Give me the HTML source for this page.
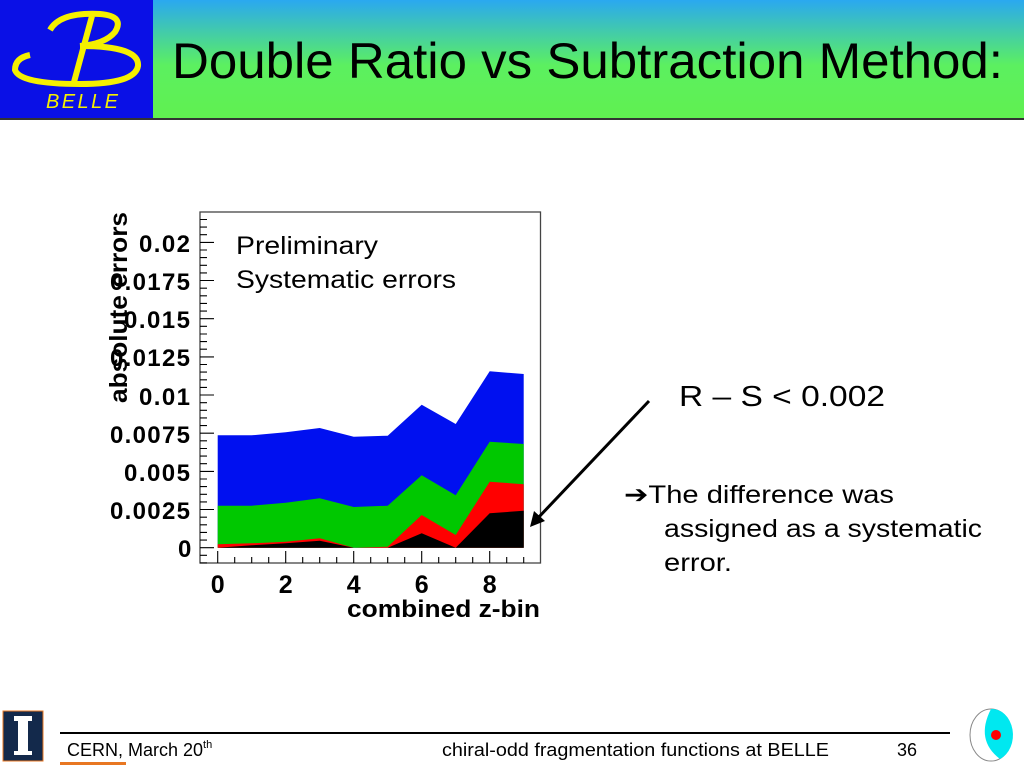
<!DOCTYPE html>
<html><head><meta charset="utf-8"><style>
html,body{margin:0;padding:0;background:#fff;width:1024px;height:768px;overflow:hidden}
svg{display:block}
</style></head><body>
<svg width="1024" height="768" viewBox="0 0 1024 768" xmlns="http://www.w3.org/2000/svg" font-family="Liberation Sans, sans-serif">
<defs>
<linearGradient id="hg" x1="0" y1="0" x2="0" y2="1">
<stop offset="0" stop-color="#2aa8f0"/><stop offset="0.55" stop-color="#5cf060"/><stop offset="1" stop-color="#60f050"/>
</linearGradient>
</defs>
<!-- header -->
<rect x="0" y="0" width="1024" height="119" fill="url(#hg)"/>
<rect x="0" y="0" width="153" height="119" fill="#0a10e6"/>
<line x1="0" y1="119" x2="1024" y2="119" stroke="#333" stroke-width="2"/>
<path d="M50,30 Q60,12 100,14 Q125,16 115,32 Q105,44 80,46" fill="none" stroke="#f5f000" stroke-width="6"/>
<path d="M80,46 Q140,46 138,66 Q135,84 80,84 Q20,84 15,70 Q15,58 30,55" fill="none" stroke="#f5f000" stroke-width="6"/>
<line x1="92" y1="16" x2="74" y2="82" stroke="#f5f000" stroke-width="6"/>
<text x="46" y="108" font-size="20" font-style="italic" fill="#f5f000" textLength="72">BELLE</text>
<text x="172" y="78" font-size="50" fill="#000" textLength="831" lengthAdjust="spacingAndGlyphs">Double Ratio vs Subtraction Method:</text>
<!-- chart frame -->
<rect x="200" y="212" width="340.5" height="351" fill="#fff" stroke="#444" stroke-width="1.3"/>
<polygon fill="#0010f0" points="217.7,547.7 217.7,435.3 251.7,435.3 285.7,432.3 319.7,428 353.7,436.7 387.7,435.7 421.7,404.7 455.7,424 489.7,371.3 523.7,374 523.7,547.7"/>
<polygon fill="#00c800" points="217.7,547.7 217.7,505.7 251.7,505.7 285.7,502.7 319.7,498.3 353.7,507 387.7,505.7 421.7,475.3 455.7,495.3 489.7,441.7 523.7,444 523.7,547.7"/>
<polygon fill="#ff0000" points="217.7,547.7 217.7,544.3 251.7,543.3 285.7,541.7 319.7,538.3 353.7,547.7 387.7,546.7 421.7,515 455.7,535 489.7,481.7 523.7,484.3 523.7,547.7"/>
<polygon fill="#000" points="217.7,547.7 217.7,547.7 251.7,545.3 285.7,543.3 319.7,540.7 353.7,547.7 387.7,547.7 421.7,533.3 455.7,547.7 489.7,513.3 523.7,510.7 523.7,547.7"/>
<g stroke="#000" stroke-width="1.1">
<path d="M200,562.9h7M200,555.3h7M200,547.7h14M200,540.1h7M200,532.4h7M200,524.8h7M200,517.2h7M200,509.5h14M200,501.9h7M200,494.3h7M200,486.6h7M200,479h7M200,471.4h14M200,463.7h7M200,456.1h7M200,448.5h7M200,440.8h7M200,433.2h14M200,425.6h7M200,417.9h7M200,410.3h7M200,402.7h7M200,395h14M200,387.4h7M200,379.8h7M200,372.1h7M200,364.5h7M200,356.9h14M200,349.2h7M200,341.6h7M200,334h7M200,326.3h7M200,318.7h14M200,311.1h7M200,303.4h7M200,295.8h7M200,288.2h7M200,280.5h14M200,272.9h7M200,265.3h7M200,257.6h7M200,250h7M200,242.4h14M200,234.7h7M200,227.1h7M200,219.5h7"/>
<path d="M217.7,563v-12M234.7,563v-6M251.7,563v-6M268.7,563v-6M285.7,563v-12M302.7,563v-6M319.7,563v-6M336.7,563v-6M353.7,563v-12M370.7,563v-6M387.7,563v-6M404.7,563v-6M421.7,563v-12M438.7,563v-6M455.7,563v-6M472.7,563v-6M489.7,563v-12M506.7,563v-6M523.7,563v-6"/>
</g>
<g font-size="24" font-weight="bold" fill="#000" lengthAdjust="spacingAndGlyphs">
<text x="178" y="557" textLength="13">0</text>
<text x="110" y="519" textLength="80">0.0025</text>
<text x="124" y="481" textLength="66">0.005</text>
<text x="110" y="443" textLength="80">0.0075</text>
<text x="139" y="405" textLength="51">0.01</text>
<text x="110" y="366" textLength="80">0.0125</text>
<text x="124" y="328" textLength="66">0.015</text>
<text x="110" y="290" textLength="80">0.0175</text>
<text x="139" y="252" textLength="51">0.02</text>
</g>
<text transform="translate(127,403) rotate(-90)" font-size="25" font-weight="bold" fill="#000" textLength="191" lengthAdjust="spacingAndGlyphs">absolute errors</text>
<g font-size="25" font-weight="bold" text-anchor="middle" fill="#000">
<text x="217.7" y="593">0</text><text x="285.7" y="593">2</text><text x="353.7" y="593">4</text><text x="421.7" y="593">6</text><text x="489.7" y="593">8</text>
</g>
<text x="347" y="617" font-size="24" font-weight="bold" fill="#000" textLength="193" lengthAdjust="spacingAndGlyphs">combined z-bin</text>
<text x="236" y="254" font-size="25" fill="#000" textLength="142" lengthAdjust="spacingAndGlyphs">Preliminary</text>
<text x="236" y="288" font-size="25" fill="#000" textLength="220" lengthAdjust="spacingAndGlyphs">Systematic errors</text>
<line x1="649" y1="401" x2="537" y2="519" stroke="#000" stroke-width="3"/>
<polygon points="530,527 534,511 545,521" fill="#000"/>
<text x="679" y="406" font-size="29" fill="#000" textLength="206" lengthAdjust="spacingAndGlyphs">R – S &lt; 0.002</text>
<text x="624" y="503" font-size="25" fill="#000" textLength="270" lengthAdjust="spacingAndGlyphs">➔The difference was</text>
<text x="664" y="537" font-size="25" fill="#000" textLength="318" lengthAdjust="spacingAndGlyphs">assigned as a systematic</text>
<text x="664" y="571" font-size="25" fill="#000" textLength="68" lengthAdjust="spacingAndGlyphs">error.</text>
<!-- footer -->
<rect x="3" y="711" width="40" height="50" fill="#13294b" stroke="#e87722" stroke-width="1"/>
<rect x="18" y="718" width="10" height="36" fill="#fff"/>
<rect x="14" y="716" width="18" height="5" fill="#fff"/>
<rect x="14" y="751" width="18" height="4" fill="#fff"/>
<line x1="60" y1="733" x2="950" y2="733" stroke="#000" stroke-width="2"/>
<rect x="60" y="762" width="66" height="3" fill="#e87722"/>
<text x="67" y="756" font-size="18" fill="#000">CERN, March 20<tspan font-size="11" dy="-8">th</tspan></text>
<text x="442" y="756" font-size="18" fill="#000" textLength="387" lengthAdjust="spacingAndGlyphs">chiral-odd fragmentation functions at BELLE</text>
<text x="897" y="756" font-size="18" fill="#000">36</text>
<ellipse cx="991" cy="735" rx="21" ry="26" fill="#fff" stroke="#888" stroke-width="1"/>
<path d="M991,709 A21,26 0 0 1 1000,759 Q975,740 991,709Z" fill="#00e8f0"/>
<circle cx="996" cy="735" r="5" fill="#f00"/>
</svg>
</body></html>
